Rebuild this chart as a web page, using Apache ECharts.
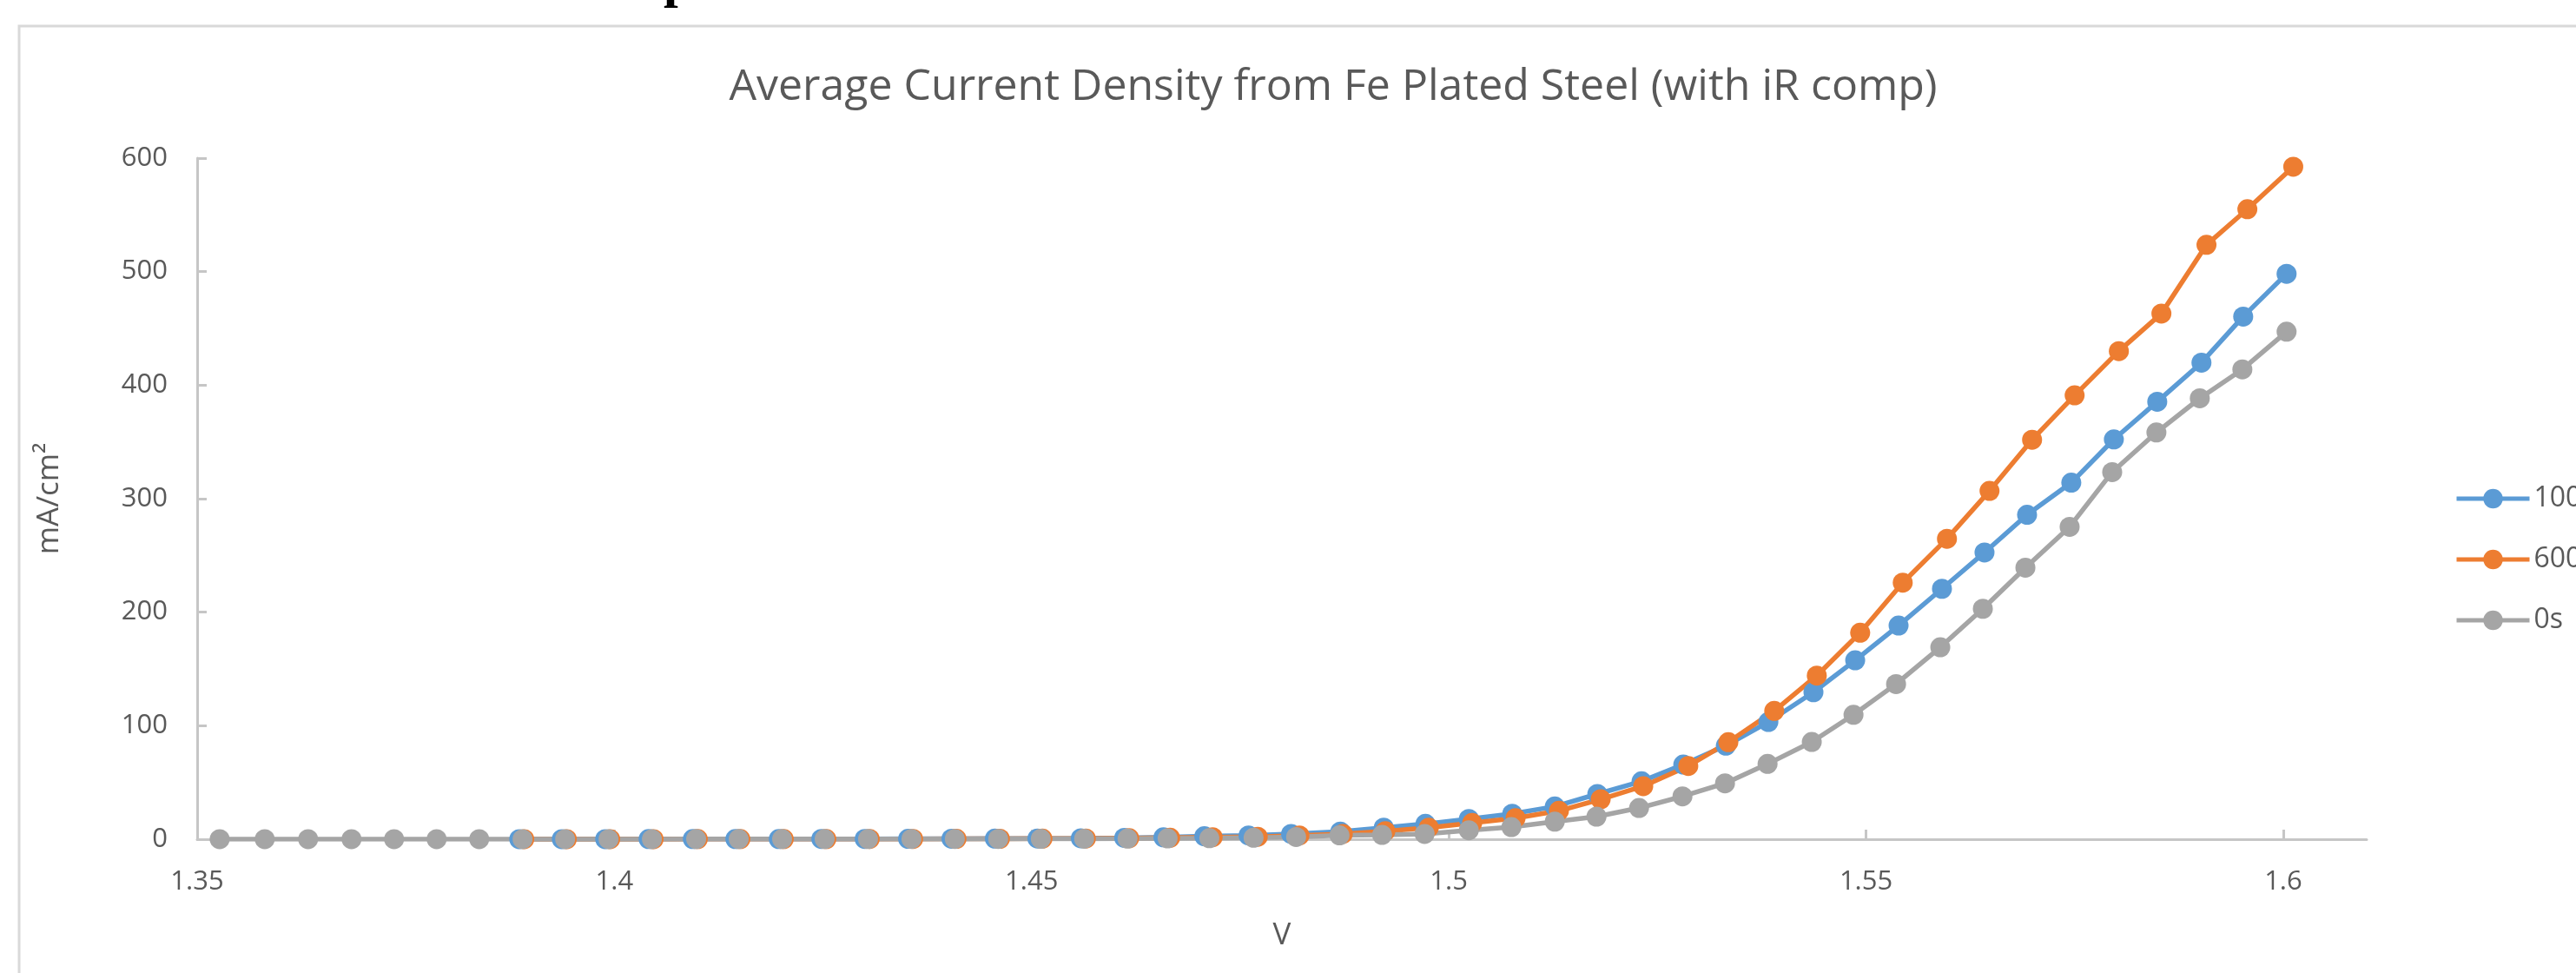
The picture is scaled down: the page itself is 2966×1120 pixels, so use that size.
<!DOCTYPE html>
<html>
<head>
<meta charset="utf-8">
<title>Average Current Density from Fe Plated Steel</title>
<script src="https://cdn.jsdelivr.net/npm/echarts@6/dist/echarts.min.js"></script>
<style>
  html, body { margin: 0; padding: 0; background: #ffffff; }
  #chart { width: 2966px; height: 1120px; }
</style>
</head>
<body>
<div id="chart"></div>
<script>
// Potential (V, iR compensated) and current density (mA/cm2) for each run
const v100 = [1.3886,1.3937,1.3989,1.4041,1.4094,1.4145,1.4197,1.4248,1.4300,1.4352,1.4404,1.4456,1.4507,1.4559,1.4611,1.4658,1.4707,1.4760,1.4811,1.4870,1.4922,1.4972,1.5024,1.5076,1.5127,1.5178,1.5231,1.5281,1.5332,1.5383,1.5437,1.5487,1.5539,1.5591,1.5642,1.5693,1.5746,1.5797,1.5849,1.5902,1.5952,1.6004];
const j100 = [0.05,0.06,0.08,0.1,0.12,0.15,0.18,0.22,0.27,0.33,0.4,0.5,0.65,0.85,1.2,1.7,2.6,3.3,4.6,6.7,10.2,13.5,17.8,22.4,28.8,39.8,51.0,65.8,82.4,103.3,129.5,157.6,188.2,220.6,252.6,285.8,314.1,352.2,385.4,419.8,460.4,498.1];

const v600 = [1.3892,1.3943,1.3995,1.4047,1.4100,1.4151,1.4203,1.4254,1.4306,1.4358,1.4410,1.4462,1.4513,1.4565,1.4617,1.4666,1.4717,1.4771,1.4821,1.4873,1.4924,1.4976,1.5028,1.5080,1.5132,1.5182,1.5233,1.5287,1.5335,1.5390,1.5441,1.5493,1.5544,1.5597,1.5648,1.5699,1.5750,1.5803,1.5854,1.5908,1.5957,1.6012];
const j600 = [0.05,0.06,0.07,0.08,0.10,0.12,0.14,0.17,0.2,0.25,0.3,0.38,0.48,0.6,0.9,1.3,1.8,2.2,3.3,4.6,7.1,10.2,14.3,18.6,25.0,35.2,46.7,64.5,85.5,113.0,144.1,181.9,226.0,264.7,306.8,351.9,391.0,430.0,463.1,523.6,555.0,592.4];

const v0 = [1.3527,1.3581,1.3633,1.3685,1.3736,1.3787,1.3838,1.3890,1.3941,1.3993,1.4045,1.4098,1.4149,1.4201,1.4252,1.4304,1.4356,1.4408,1.4460,1.4511,1.4563,1.4615,1.4663,1.4713,1.4766,1.4817,1.4869,1.4920,1.4971,1.5024,1.5075,1.5127,1.5177,1.5228,1.5280,1.5331,1.5382,1.5435,1.5485,1.5536,1.5589,1.5640,1.5691,1.5744,1.5795,1.5848,1.5900,1.5951,1.6004];
const j0 = [0.02,0.03,0.03,0.04,0.04,0.05,0.05,0.06,0.07,0.08,0.09,0.10,0.11,0.13,0.15,0.17,0.2,0.23,0.27,0.32,0.4,0.5,0.7,0.9,1.3,2.0,3.4,3.8,4.6,7.9,10.7,15.5,19.9,27.5,37.7,49.2,66.3,85.7,109.6,136.7,169.1,203.0,239.2,275.2,323.4,358.3,388.4,413.9,447.1];

const seriesNames = ['100s', '600s', '0s'];
const seriesColors = ['#5B9BD5', '#ED7D31', '#A5A5A5'];
const xTicks = [1.35, 1.4, 1.45, 1.5, 1.55, 1.6];
const yTicks = [0, 100, 200, 300, 400, 500, 600];

const zip = (xs, ys) => xs.map((x, i) => [x, ys[i]]);
const runs = [zip(v100, j100), zip(v600, j600), zip(v0, j0)];

const FONT = '"Open Sans", "Noto Sans", sans-serif';
const TEXT = '#595959';
const AXIS = '#c6c6c6';

const chart = echarts.init(document.getElementById('chart'), null, { renderer: 'canvas' });

chart.setOption({
  animation: false,
  backgroundColor: '#ffffff',
  textStyle: { fontFamily: FONT },
  title: {
    text: 'Average Current Density from Fe Plated Steel (with iR comp)',
    left: 1530,
    top: 71,
    textAlign: 'center',
    textStyle: { fontFamily: FONT, fontSize: 50, fontWeight: 'normal', color: TEXT }
  },
  legend: {
    orient: 'vertical',
    left: 2821,
    top: 553,
    itemWidth: 84,
    itemHeight: 28,
    itemGap: 38,
    data: seriesNames,
    lineStyle: { width: 5 },
    textStyle: { fontFamily: FONT, fontSize: 32, color: TEXT, lineHeight: 28 }
  },
  grid: { left: 227, right: 241, top: 182, bottom: 154, containLabel: false },
  xAxis: {
    type: 'value',
    min: 1.35,
    max: 1.61,
    name: 'V',
    nameLocation: 'middle',
    nameGap: 94,
    nameTextStyle: { fontFamily: FONT, fontSize: 35, color: TEXT },
    splitLine: { show: false },
    axisLine: { show: true, lineStyle: { color: AXIS, width: 3 } },
    axisTick: { show: true, inside: true, length: 11, customValues: xTicks, lineStyle: { color: AXIS, width: 3 } },
    axisLabel: { customValues: xTicks, margin: 34, fontFamily: FONT, fontSize: 31, color: TEXT }
  },
  yAxis: {
    type: 'value',
    min: 0,
    max: 600,
    interval: 100,
    name: 'mA/cm²',
    nameLocation: 'middle',
    nameGap: 152,
    nameTextStyle: { fontFamily: FONT, fontSize: 35, color: TEXT },
    splitLine: { show: false },
    axisLine: { show: true, lineStyle: { color: AXIS, width: 3 } },
    axisTick: { show: true, inside: true, length: 11, customValues: yTicks, lineStyle: { color: AXIS, width: 3 } },
    axisLabel: { margin: 34, fontFamily: FONT, fontSize: 31, color: TEXT }
  },
  series: runs.map((data, i) => ({
    name: seriesNames[i],
    type: 'line',
    data: data,
    symbol: 'circle',
    symbolSize: 23,
    showSymbol: true,
    showAllSymbol: true,
    lineStyle: { color: seriesColors[i], width: 5.5 },
    itemStyle: { color: seriesColors[i] },
    emphasis: { disabled: true }
  })),
  graphic: [
    {
      type: 'rect',
      silent: true,
      shape: { x: 22, y: 30, width: 3100, height: 1300 },
      style: { fill: 'none', stroke: '#d9d9d9', lineWidth: 3 }
    },
    {
      type: 'text',
      silent: true,
      x: 764,
      y: 10,
      style: {
        text: 'p',
        font: 'bold 60px "Liberation Serif", "DejaVu Serif", serif',
        fill: '#000000',
        verticalAlign: 'bottom'
      }
    }
  ]
});
</script>
</body>
</html>
